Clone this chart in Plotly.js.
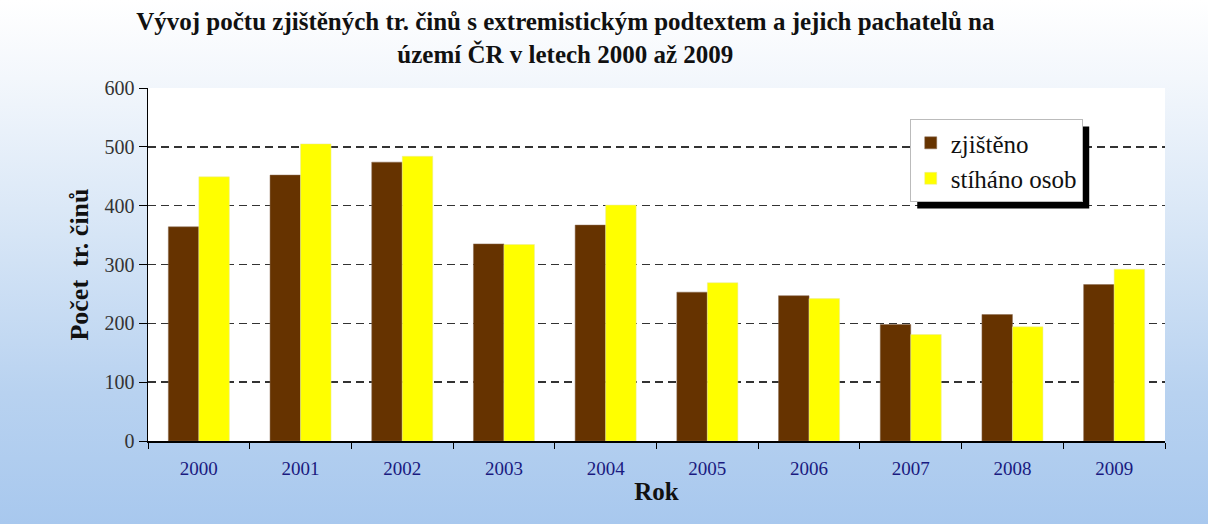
<!DOCTYPE html>
<html>
<head>
<meta charset="utf-8">
<script src="https://cdn.plot.ly/plotly-3.0.1.min.js"></script>
<style>
html,body{margin:0;padding:0;}
#chart{width:1208px;height:524px;background:linear-gradient(to bottom,#ffffff 0%,#f3f7fc 15%,#d6e5f6 45%,#b8d2f0 75%,#a8c8ee 100%);}
</style>
</head>
<body>
<div id="chart"></div>
<script>
const years = ['2000','2001','2002','2003','2004','2005','2006','2007','2008','2009'];
const zjisteno = [364, 452, 474, 335, 367, 253, 247, 198, 215, 266];
const stihano = [449, 505, 484, 334, 401, 269, 242, 181, 194, 292];
const seriesNames = ['zjištěno', 'stíháno osob'];

const serif = 'Liberation Serif, Times New Roman, serif';
const M = {l:148, r:43, t:88, b:83};

const traces = [
  {type:'bar', x:years, y:zjisteno, name:seriesNames[0],
   marker:{color:'#663300', line:{color:'#8a6a50', width:0.5}}},
  {type:'bar', x:years, y:stihano, name:seriesNames[1],
   marker:{color:'#ffff00', line:{color:'#e8e8a0', width:0.5}}}
];

const layout = {
  width:1208, height:524,
  paper_bgcolor:'rgba(0,0,0,0)',
  plot_bgcolor:'#ffffff',
  margin:M,
  barmode:'group', bargap:0.4, bargroupgap:0,
  title:{text:'<b>Vývoj počtu zjištěných tr. činů s extremistickým podtextem a jejich pachatelů na<br>území ČR v letech 2000 až 2009</b>',
         x:0.468, xanchor:'center', yref:'container', y:0.942, yanchor:'middle',
         font:{family:serif, size:25, color:'#111'}},
  xaxis:{type:'category', tickson:'boundaries', ticks:'outside', ticklen:6, tickcolor:'#000',
         showline:true, linecolor:'#000', linewidth:1.5, showgrid:false,
         ticklabelstandoff:10,
         tickfont:{family:serif, size:19, color:'#1a1a80'},
         title:{text:'<b>Rok</b>', font:{family:serif, size:25, color:'#111'}, standoff:4}},
  yaxis:{range:[0,600], dtick:100, ticks:'outside', ticklen:8, tickcolor:'#000',
         showline:true, linecolor:'#000', linewidth:1.5,
         showgrid:true, gridcolor:'#333', griddash:'8px,5px', gridwidth:1.5,
         zeroline:false,
         tickfont:{family:serif, size:20, color:'#333'},
         title:{text:'<b>Počet  tr. činů</b>', font:{family:serif, size:26, color:'#111'}, standoff:8}},
  legend:{x:0.749, y:0.912, xanchor:'left', yanchor:'top', bgcolor:'#ffffff',
          bordercolor:'#bbb', borderwidth:1, font:{family:serif, size:25, color:'#111'},
          itemwidth:30},
  showlegend:true
};

Plotly.newPlot('chart', traces, layout, {displayModeBar:false, staticPlot:true}).then(function(gd){
  const bg = gd.querySelector('.legend .bg');
  if (!bg) return;
  const r = bg.getBoundingClientRect();
  const c = gd.getBoundingClientRect();
  const pw = 1208 - M.l - M.r, ph = 524 - M.t - M.b;
  const off = 7;
  const px0 = r.left - c.left + off, px1 = r.right - c.left + off;
  const py0 = r.top - c.top + off, py1 = r.bottom - c.top + off;
  return Plotly.relayout(gd, {shapes:[{type:'rect', xref:'paper', yref:'paper', layer:'above',
    x0:(px0 - M.l)/pw, x1:(px1 - M.l)/pw,
    y0:(524 - M.b - py1)/ph, y1:(524 - M.b - py0)/ph,
    fillcolor:'#000', line:{width:0}}]});
});
</script>
</body>
</html>
